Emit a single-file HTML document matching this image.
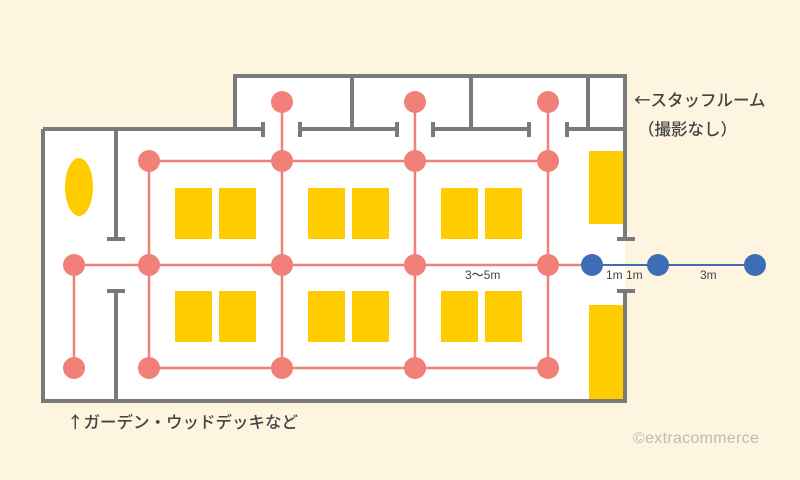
<!DOCTYPE html>
<html><head><meta charset="utf-8"><style>
html,body{margin:0;padding:0;background:#fdf5e0;}
svg{display:block;}
text{font-family:"Liberation Sans","Noto Sans CJK JP",sans-serif;}
.jp{font-family:"Noto Sans CJK JP",sans-serif;}
</style></head><body>
<svg width="800" height="480" viewBox="0 0 800 480" xmlns="http://www.w3.org/2000/svg">
<rect width="800" height="480" fill="#fdf5e0"/>
<rect x="43" y="129" width="582" height="272" fill="#fff"/>
<rect x="233" y="76" width="392" height="55" fill="#fff"/>
<g stroke="#7a7a7a" stroke-width="4" fill="none">
<polyline points="43,129 43,401 627,401"/>
<polyline points="43,129 235,129 235,76 625,76 625,241"/>
<line x1="625" y1="291" x2="625" y2="403"/>
<line x1="617" y1="239" x2="635" y2="239"/>
<line x1="617" y1="291" x2="635" y2="291"/>
<line x1="233" y1="129" x2="263" y2="129"/><line x1="263" y1="122" x2="263" y2="137"/>
<line x1="300" y1="129" x2="397" y2="129"/><line x1="300" y1="122" x2="300" y2="137"/><line x1="397" y1="122" x2="397" y2="137"/>
<line x1="433" y1="129" x2="529" y2="129"/><line x1="433" y1="122" x2="433" y2="137"/><line x1="529" y1="122" x2="529" y2="137"/>
<line x1="567" y1="129" x2="625" y2="129"/><line x1="567" y1="122" x2="567" y2="137"/>
<line x1="352" y1="76" x2="352" y2="129"/>
<line x1="471" y1="76" x2="471" y2="129"/>
<line x1="588" y1="76" x2="588" y2="129"/>
<line x1="116" y1="129" x2="116" y2="239"/><line x1="107" y1="239" x2="125" y2="239"/>
<line x1="116" y1="291" x2="116" y2="401"/><line x1="107" y1="291" x2="125" y2="291"/>
</g>
<g fill="#ffcc00">
<ellipse cx="79" cy="187" rx="14" ry="29"/>
<rect x="175" y="188" width="37" height="51"/><rect x="219" y="188" width="37" height="51"/>
<rect x="308" y="188" width="37" height="51"/><rect x="352" y="188" width="37" height="51"/>
<rect x="441" y="188" width="37" height="51"/><rect x="485" y="188" width="37" height="51"/>
<rect x="175" y="291" width="37" height="51"/><rect x="219" y="291" width="37" height="51"/>
<rect x="308" y="291" width="37" height="51"/><rect x="352" y="291" width="37" height="51"/>
<rect x="441" y="291" width="37" height="51"/><rect x="485" y="291" width="37" height="51"/>
<rect x="589" y="151" width="34" height="73"/>
<rect x="589" y="305" width="34" height="94"/>
</g>
<g stroke="#f08078" stroke-width="2.5" fill="none">
<line x1="149" y1="161" x2="548" y2="161"/>
<line x1="74" y1="265" x2="590" y2="265"/>
<line x1="149" y1="368" x2="548" y2="368"/>
<line x1="149" y1="161" x2="149" y2="368"/>
<line x1="282" y1="102" x2="282" y2="368"/>
<line x1="415" y1="102" x2="415" y2="368"/>
<line x1="548" y1="102" x2="548" y2="368"/>
<line x1="74" y1="265" x2="74" y2="368"/>
</g>
<g fill="#f08078">
<circle cx="282" cy="102" r="11"/><circle cx="415" cy="102" r="11"/><circle cx="548" cy="102" r="11"/>
<circle cx="149" cy="161" r="11"/><circle cx="282" cy="161" r="11"/><circle cx="415" cy="161" r="11"/><circle cx="548" cy="161" r="11"/>
<circle cx="74" cy="265" r="11"/><circle cx="149" cy="265" r="11"/><circle cx="282" cy="265" r="11"/><circle cx="415" cy="265" r="11"/><circle cx="548" cy="265" r="11"/>
<circle cx="74" cy="368" r="11"/><circle cx="149" cy="368" r="11"/><circle cx="282" cy="368" r="11"/><circle cx="415" cy="368" r="11"/><circle cx="548" cy="368" r="11"/>
</g>
<line x1="592" y1="265" x2="755" y2="265" stroke="#3d6db5" stroke-width="2"/>
<g fill="#3d6db5">
<circle cx="592" cy="265" r="11"/><circle cx="658" cy="265" r="11"/><circle cx="755" cy="265" r="11"/>
</g>
<g fill="#444" font-size="12" font-weight="500">
<text x="465" y="279">3〜5m</text>
<text x="606" y="279">1m 1m</text>
<text x="700" y="279">3m</text>
</g>
<g fill="#444" font-size="16.5" font-weight="500" class="jp">
<text x="634" y="106" class="jp">←スタッフルーム</text>
<text x="638" y="135" class="jp">（撮影なし）</text>
<text x="67" y="428" class="jp">↑ガーデン・ウッドデッキなど</text>
</g>
<text x="633" y="443" font-size="16" letter-spacing="0.3" fill="#bbb">©extracommerce</text>
</svg>
</body></html>
